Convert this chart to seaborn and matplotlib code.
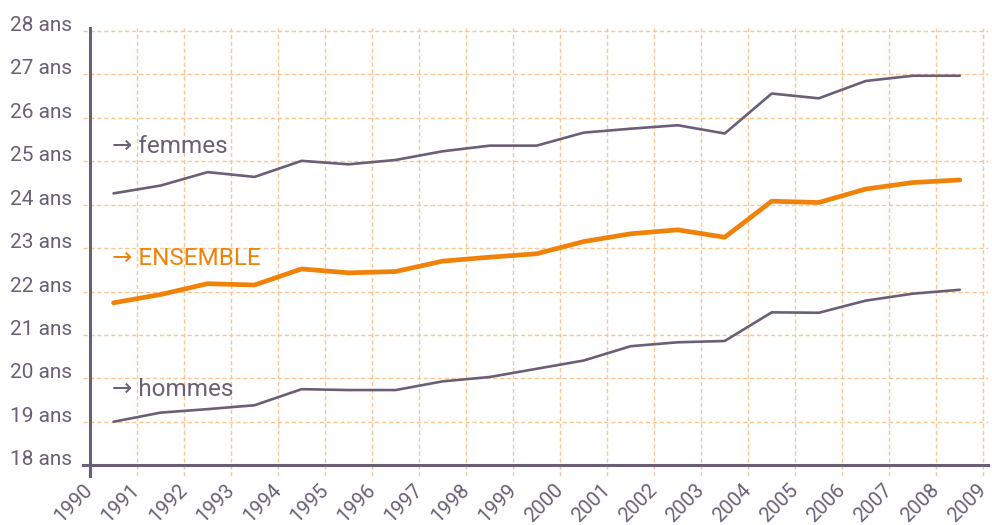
import seaborn as sns
import matplotlib.pyplot as plt
import pandas as pd
import numpy as np

# years (points plotted at mid-year)
years = list(range(1990, 2009))
femmes = [24.26, 24.44, 24.75, 24.64, 25.01, 24.93, 25.03, 25.23, 25.36, 25.36,
          25.66, 25.75, 25.83, 25.64, 26.56, 26.45, 26.85, 26.97, 26.97]
ensemble = [21.74, 21.93, 22.18, 22.15, 22.52, 22.43, 22.46, 22.70, 22.79, 22.87,
            23.15, 23.33, 23.42, 23.25, 24.08, 24.05, 24.36, 24.51, 24.57]
hommes = [19.00, 19.21, 19.29, 19.38, 19.75, 19.73, 19.73, 19.93, 20.03, 20.22,
          20.41, 20.74, 20.83, 20.86, 21.52, 21.51, 21.79, 21.95, 22.04]
y_ticks = list(range(18, 29))
y_labels = [f"{v} ans" for v in y_ticks]
x_ticks = list(range(1990, 2010))

GREY = "#6b5f78"
ORANGE = "#f0820a"
GRID = "#f9c591"

sns.set_theme(style="white")
plt.rcParams["font.family"] = ["Roboto", "DejaVu Sans"]

df = pd.DataFrame({"year": np.array(years) + 0.5, "femmes": femmes,
                   "ensemble": ensemble, "hommes": hommes})

fig = plt.figure(figsize=(9.92, 5.25), dpi=100)
ax = fig.add_axes([83 / 992, 1 - 476 / 525, 905 / 992, 448 / 525])

sns.lineplot(data=df, x="year", y="femmes", color=GREY, linewidth=1.9, ax=ax, zorder=3)
sns.lineplot(data=df, x="year", y="hommes", color=GREY, linewidth=1.9, ax=ax, zorder=3)
sns.lineplot(data=df, x="year", y="ensemble", color=ORANGE, linewidth=3.4, ax=ax, zorder=3)

ax.set_xlim(1989.85, 2009.1)
ax.set_ylim(17.75, 28.07)

# spines first: set_position resets the ticks
for side in ["top", "right"]:
    ax.spines[side].set_visible(False)
ax.spines["left"].set_position(("data", 1990))
ax.spines["bottom"].set_position(("data", 18))
for side in ["left", "bottom"]:
    ax.spines[side].set_color(GREY)
    ax.spines[side].set_linewidth(2.2)
    ax.spines[side].set_zorder(4)

ax.tick_params(axis="both", length=0, colors=GREY, labelsize=15)
ax.tick_params(axis="y", pad=13)
ax.tick_params(axis="x", pad=16, labelsize=14.5)

ax.set_xticks(x_ticks, labels=[str(x) for x in x_ticks], rotation=45,
              ha="right", va="center", rotation_mode="anchor")
# y labels sit slightly above their grid line
ax.set_yticks(y_ticks, labels=y_labels, va="baseline")

ax.grid(True, color=GRID, linestyle=(0, (3, 2)), linewidth=1.0, zorder=1)
ax.set_axisbelow(True)

ax.set_xlabel("")
ax.set_ylabel("")

ax.text(1990.47, 25.33, "→ femmes", color=GREY, fontsize=17.5, va="center", ha="left")
ax.text(1990.47, 22.76, "→ ENSEMBLE", color=ORANGE, fontsize=17.5, va="center", ha="left")
ax.text(1990.47, 19.75, "→ hommes", color=GREY, fontsize=17.5, va="center", ha="left")

fig.savefig("out.png", dpi=100)
